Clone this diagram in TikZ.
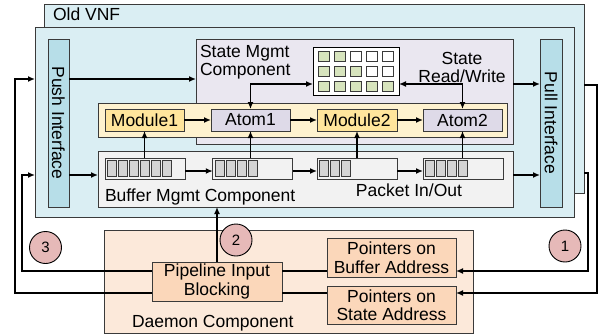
\documentclass[tikz,border=0pt]{standalone}
\usepackage{fontspec}
\setmainfont{Liberation Sans}
\usetikzlibrary{arrows.meta}
\definecolor{vnfblue}{HTML}{DAEEF3}
\definecolor{ifblue}{HTML}{B7DEE8}
\definecolor{stlav}{HTML}{EAE7F0}
\definecolor{bandyel}{HTML}{FEF2CF}
\definecolor{modyel}{HTML}{FFE59C}
\definecolor{atomlav}{HTML}{DEDAE8}
\definecolor{bufbg}{HTML}{F2F2F2}
\definecolor{cellgray}{HTML}{D4D4D4}
\definecolor{cellgreen}{HTML}{D7E4BD}
\definecolor{daemonbg}{HTML}{FCE9DA}
\definecolor{pinkbox}{HTML}{FBD7BA}
\definecolor{circfill}{HTML}{E6B9B8}
\definecolor{bordc}{HTML}{3A3A3A}
\begin{document}
\begin{tikzpicture}[x=1pt,y=-1pt,
  font=\fontsize{17.5}{18.5}\selectfont,
  box/.style={draw=bordc, line width=0.9pt, inner sep=0pt, outer sep=0pt},
  cell/.style={draw=bordc, line width=0.8pt},
  arr/.style={-{Latex[length=7pt,width=6pt]}, line width=1.4pt},
  darr/.style={{Latex[length=7pt,width=6pt]}-{Latex[length=7pt,width=6pt]}, line width=1.4pt},
  ln/.style={line width=1.4pt},
  circ/.style={circle, draw=black, line width=0.9pt, fill=circfill, minimum size=32pt, inner sep=0pt, font=\fontsize{15}{15}\selectfont},
  txt/.style={inner sep=0pt, outer sep=0pt}]
\useasboundingbox (0,0) rectangle (601,334);

% Old VNF boxes
\node[box, fill=vnfblue, minimum width=540pt, minimum height=189pt] (oldvnf) at (314,98.5) {};
\node[txt, anchor=base west] (oldlbl) at (53,21) {Old VNF};
\node[box, fill=vnfblue, minimum width=539pt, minimum height=190pt] (inner) at (304.5,122) {};

% interfaces
\node[box, fill=ifblue, minimum width=21pt, minimum height=168pt] (push) at (58.5,123) {};
\node[txt, rotate=-90] (pushlbl) at (58.5,123) {Push Interface};
\node[box, fill=ifblue, minimum width=22pt, minimum height=168pt] (pull) at (551,123) {};
\node[txt, rotate=-90] (pulllbl) at (551,123) {Pull Interface};

% State Mgmt
\node[box, fill=stlav, minimum width=317pt, minimum height=105pt] (state) at (354.5,91.5) {};
\node[txt, anchor=west, align=left] (statelbl) at (200,62) {State Mgmt\\Component};
\node[txt, align=center] (rwlbl) at (462,67.5) {State\\Read/Write};
\node[box, draw=black, fill=white, minimum width=86pt, minimum height=48pt] (table) at (356,71) {};
\foreach \c in {0,1} \draw[cell, fill=cellgreen] (318.5+16*\c,51) rectangle ++(10.5,10.5);
\foreach \c in {2,3,4} \draw[cell, fill=white] (318.5+16*\c,51) rectangle ++(10.5,10.5);
\foreach \c in {0,1,2} \draw[cell, fill=cellgreen] (318.5+16*\c,66) rectangle ++(10.5,10.5);
\foreach \c in {3,4} \draw[cell, fill=white] (318.5+16*\c,66) rectangle ++(10.5,10.5);
\foreach \c in {0,1,2,3,4} \draw[cell, fill=cellgreen] (318.5+16*\c,81) rectangle ++(10.5,10.5);

% pipeline band
\node[box, fill=bandyel, minimum width=409pt, minimum height=34pt] (band) at (302.5,120) {};
\node[box, fill=modyel, minimum width=79pt, minimum height=22pt] (mod1) at (144.5,120) {Module1};
\node[box, fill=atomlav, minimum width=79pt, minimum height=22pt] (atom1) at (250.5,120) {Atom1};
\node[box, fill=modyel, minimum width=80pt, minimum height=22pt] (mod2) at (357,120) {Module2};
\node[box, fill=atomlav, minimum width=79pt, minimum height=22pt] (atom2) at (462.5,120) {Atom2};

% buffer mgmt
\node[box, fill=bufbg, minimum width=415pt, minimum height=56pt] (bufm) at (305.5,179) {};
\node[txt, anchor=base west] (bufmlbl) at (105,201) {Buffer Mgmt Component};
\node[txt, anchor=base] (pktlbl) at (409,196) {Packet In/Out};
\node[box, fill=bufbg, minimum width=80pt, minimum height=21pt] (buf1) at (145,168.5) {};
\node[box, fill=bufbg, minimum width=80pt, minimum height=21pt] (buf2) at (252.8,168.5) {};
\node[box, fill=bufbg, minimum width=80pt, minimum height=21pt] (buf3) at (357,168.5) {};
\node[box, fill=bufbg, minimum width=80pt, minimum height=21pt] (buf4) at (463,168.5) {};
\foreach \i in {0,...,5} \draw[cell, fill=cellgray] (107.3+11*\i,160.7) rectangle ++(9.3,16);
\foreach \i in {0,...,3} \draw[cell, fill=cellgray] (215+11*\i,160.7) rectangle ++(9.3,16);
\foreach \i in {0,...,2} \draw[cell, fill=cellgray] (319.3+11*\i,160.7) rectangle ++(9.3,16);
\foreach \i in {0,...,3} \draw[cell, fill=cellgray] (425.3+11*\i,160.7) rectangle ++(9.3,16);

% coordinates
\coordinate (y79) at (0,79);
\coordinate (y84) at (0,84);
\coordinate (y85) at (0,85);
\coordinate (y171) at (0,171);
\coordinate (y173) at (0,173);
\coordinate (y175) at (0,175);
\coordinate (y271) at (0,271);
\coordinate (y293) at (0,293);

% arrows inside VNF
\draw[arr] (push.east |- y79) -- (state.west |- y79);
\draw[arr] (state.east |- y84) -- (pull.west |- y84);
\draw[arr] (push.east |- y175) -- (bufm.west |- y175);
\draw[arr] (bufm.east |- y175) -- (pull.west |- y175);
\draw[darr] (atom1.north) |- (table.west |- y84);
\draw[darr] (atom2.north) |- (table.east |- y84);
\draw[arr] (mod1) -- (atom1);
\draw[arr] (atom1) -- (mod2);
\draw[arr] (mod2) -- (atom2);
\draw[arr] (buf1.east |- y171) -- (buf2.west |- y171);
\draw[arr] (buf2.east |- y171) -- (buf3.west |- y171);
\draw[arr] (buf3.east |- y171) -- (buf4.west |- y171);
\draw[arr] (mod1.south |- buf1.north) -- (mod1.south);
\draw[arr] (atom1.south |- buf2.north) -- (atom1.south);
\draw[arr] (mod2.south |- buf3.north) -- (mod2.south);
\draw[arr] (atom2.south |- buf4.north) -- (atom2.south);

% Daemon
\node[box, fill=daemonbg, minimum width=369pt, minimum height=103pt] (daemon) at (288.5,281.5) {};
\node[txt, anchor=base west] (daemonlbl) at (132,327) {Daemon Component};
\node[box, fill=pinkbox, minimum width=130pt, minimum height=39pt, align=center] (pib) at (217,281.5) {Pipeline Input\\Blocking};
\node[box, fill=pinkbox, minimum width=129pt, minimum height=39pt, align=center] (pba) at (391.5,257.5) {Pointers on\\Buffer Address};
\node[box, fill=pinkbox, minimum width=129pt, minimum height=38pt, align=center] (psa) at (391.5,305) {Pointers on\\State Address};

\draw[arr] (pib.north) -- (pib.north |- bufm.south);
\draw[ln] (pib.east |- y271) -- (pba.west |- y271);
\draw[ln] (pib.east |- y293) -- (psa.west |- y293);

% external loops
\coordinate (lA) at (22,271);
\coordinate (lB) at (15,293);
\coordinate (rA) at (588,173);
\coordinate (rB) at (597,85);
\draw[arr] (pib.west |- y271) -- (lA) |- (inner.west |- y175);
\draw[arr] (pib.west |- y293) -- (lB) |- (inner.west |- y79);
\draw[arr] (oldvnf.east |- y173) -- (rA) |- (pba.east |- y271);
\draw[arr] (oldvnf.east |- y85) -- (rB) |- (psa.east |- y293);

% circles
\node[circ] (c3) at (45.5,247.5) {3};
\node[circ] (c2) at (236,240) {2};
\node[circ] (c1) at (565,246) {1};
\end{tikzpicture}
\end{document}
